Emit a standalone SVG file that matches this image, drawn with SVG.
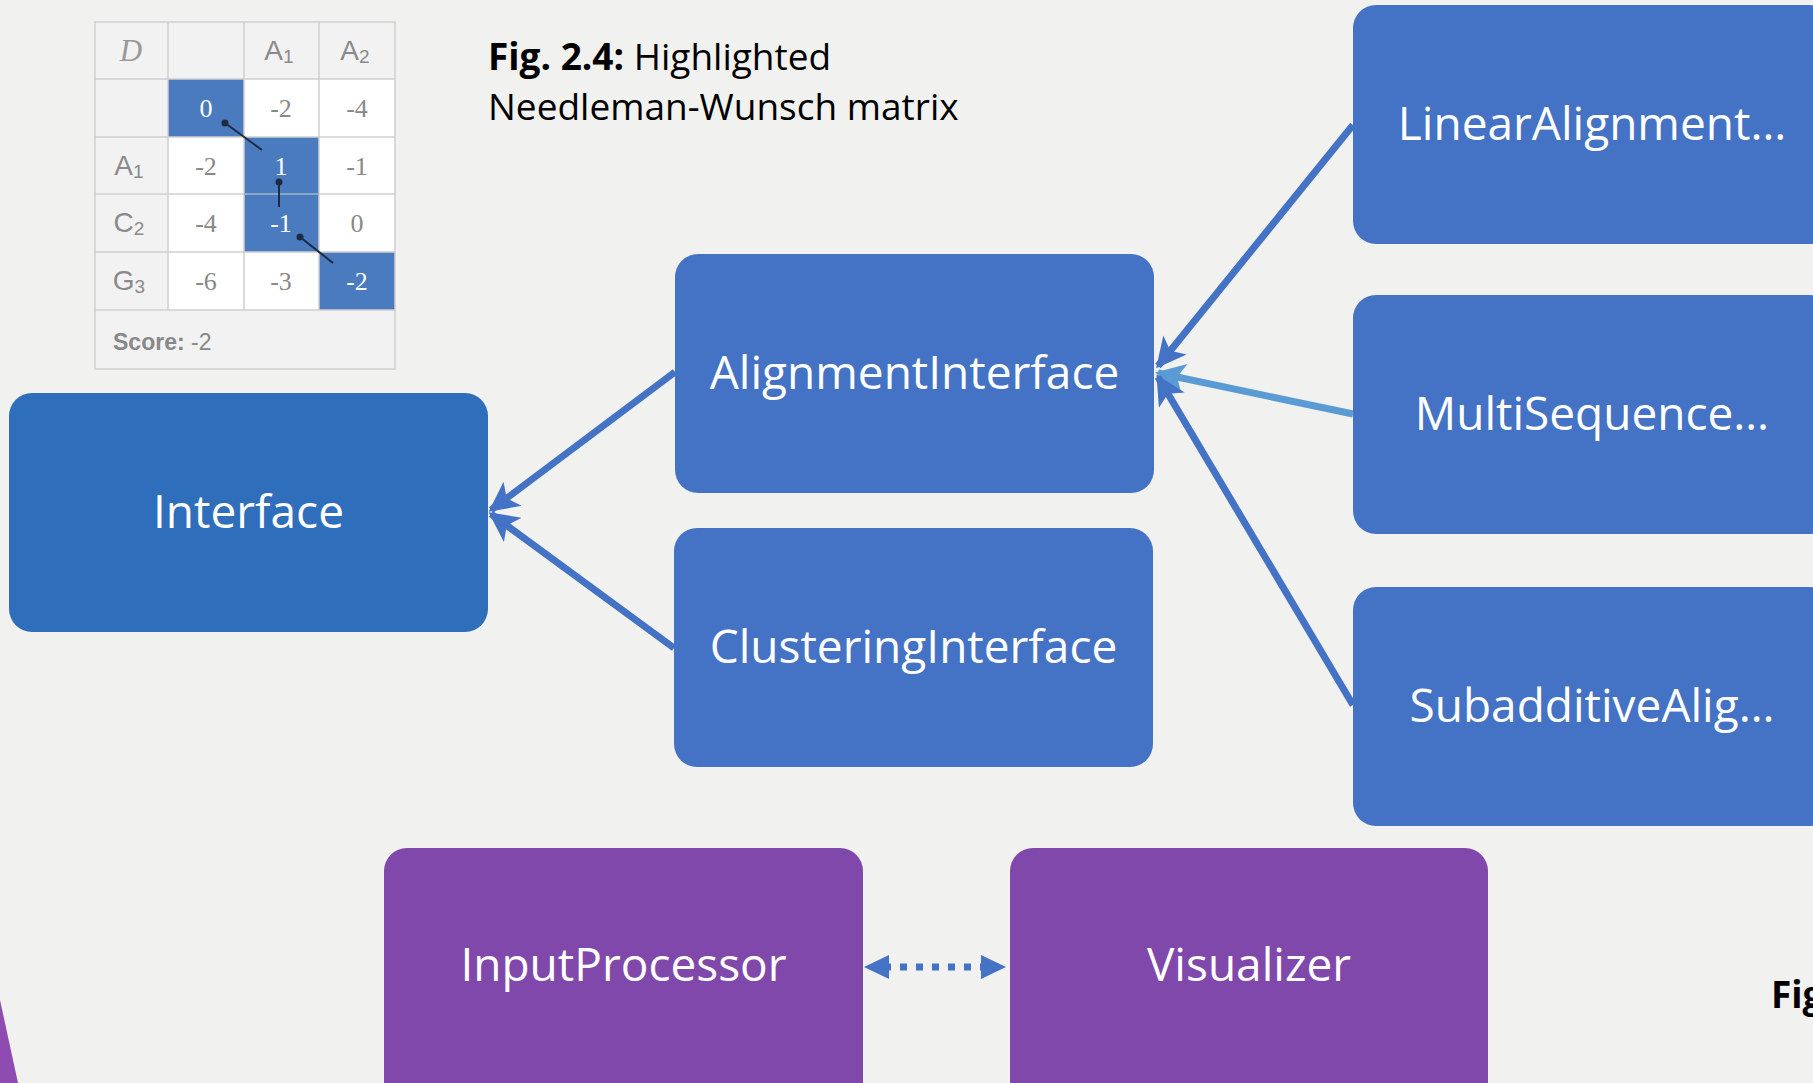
<svg xmlns="http://www.w3.org/2000/svg" width="1813" height="1083" viewBox="0 0 1813 1083">
<style>
.bg{fill:#f1f1f0}
.node text{font-family:"Open Sans","Liberation Sans",sans-serif;font-size:46px;fill:#ffffff;text-anchor:middle;dominant-baseline:central}
.blue{fill:#4472c4}
.dblue{fill:#2e6ebb}
.purple{fill:#8048ab}
.conn{stroke:#4472c4;stroke-width:7;fill:none}
.light{stroke:#5b9bd5}
.cap{font-family:"Open Sans","Liberation Sans",sans-serif;font-size:37px;fill:#000}
.mnum{font-family:"Liberation Serif",serif;font-size:26px;fill:#888;text-anchor:middle;dominant-baseline:central}
.mhdr{font-family:"Liberation Sans",sans-serif;font-size:28px;fill:#8a8a8a;text-anchor:middle;dominant-baseline:central}
.mw{fill:#ffffff}
.grid{stroke:#cfcfcf;stroke-width:1.5;fill:none}
</style>
<defs>
<marker id="ah" viewBox="0 0 10 10" refX="9" refY="5" markerWidth="32" markerHeight="30" markerUnits="userSpaceOnUse" orient="auto">
<path d="M0,0 L10,5 L0,10 L2.5,5 z" fill="#4472c4"/>
</marker>
<marker id="ahl" viewBox="0 0 10 10" refX="9" refY="5" markerWidth="32" markerHeight="30" markerUnits="userSpaceOnUse" orient="auto">
<path d="M0,0 L10,5 L0,10 L2.5,5 z" fill="#5b9bd5"/>
</marker>
</defs>
<rect class="bg" x="0" y="0" width="1813" height="1083"/>

<g id="matrix">
<rect x="95" y="22" width="300" height="347" fill="#f2f2f2"/>
<rect x="168" y="79" width="227" height="231" fill="#ffffff"/>
<rect x="168" y="79" width="76" height="58" fill="#4a7bbf"/>
<rect x="244" y="137" width="75" height="115" fill="#4a7bbf"/>
<rect x="319" y="252" width="76" height="58" fill="#4a7bbf"/>
<path class="grid" d="M95,22 H395 V369 H95 Z M168,22 V310 M244,22 V310 M319,22 V310 M95,79 H395 M95,137 H395 M95,194 H395 M95,252 H395 M95,310 H395"/>
<line x1="244" y1="194" x2="319" y2="194" stroke="#6b93c9" stroke-width="1"/>
<text x="131" y="50" font-family="Liberation Serif,serif" font-style="italic" font-size="31" fill="#999" text-anchor="middle" dominant-baseline="central">D</text>
<text class="mhdr" x="279" y="50">A<tspan font-size="19" dy="6">1</tspan></text>
<text class="mhdr" x="355" y="50">A<tspan font-size="19" dy="6">2</tspan></text>
<text class="mhdr" x="129" y="165">A<tspan font-size="19" dy="6">1</tspan></text>
<text class="mhdr" x="129" y="222">C<tspan font-size="19" dy="6">2</tspan></text>
<text class="mhdr" x="129" y="280">G<tspan font-size="19" dy="6">3</tspan></text>
<text class="mnum mw" x="206" y="108">0</text>
<text class="mnum" x="281" y="108">-2</text>
<text class="mnum" x="357" y="108">-4</text>
<text class="mnum" x="206" y="166">-2</text>
<text class="mnum mw" x="281" y="166">1</text>
<text class="mnum" x="357" y="166">-1</text>
<text class="mnum" x="206" y="223">-4</text>
<text class="mnum mw" x="281" y="223">-1</text>
<text class="mnum" x="357" y="223">0</text>
<text class="mnum" x="206" y="281">-6</text>
<text class="mnum" x="281" y="281">-3</text>
<text class="mnum mw" x="357" y="281">-2</text>
<g stroke="#1e2a40" stroke-width="2" fill="#1e2a40">
<line x1="225" y1="123" x2="262" y2="150"/><circle cx="225" cy="123" r="2.5"/>
<line x1="279" y1="182" x2="279" y2="207"/><circle cx="279" cy="182" r="2.5"/>
<line x1="300" y1="237" x2="333" y2="263"/><circle cx="300" cy="237" r="2.5"/>
</g>
<text x="113" y="342" font-family="Liberation Sans,sans-serif" font-size="23" fill="#888" dominant-baseline="central"><tspan font-weight="bold">Score:</tspan> -2</text>
</g>

<g id="caption">
<text class="cap" x="488" y="70"><tspan font-weight="bold">Fig. 2.4:</tspan> Highlighted</text>
<text class="cap" x="488" y="120">Needleman-Wunsch matrix</text>
</g>
<text class="cap" x="1771" y="1008" font-weight="bold">Fig</text>
<polygon points="0,1000 18,1083 0,1083" fill="#8e4cb0"/>

<g id="connectors">
<line class="conn" x1="675" y1="372" x2="491" y2="510" marker-end="url(#ah)"/>
<line class="conn" x1="674" y1="648" x2="491" y2="514" marker-end="url(#ah)"/>
<line class="conn" x1="1353" y1="125" x2="1158" y2="366" marker-end="url(#ah)"/>
<line class="conn light" x1="1353" y1="414" x2="1158" y2="373" marker-end="url(#ahl)"/>
<line class="conn" x1="1353" y1="705" x2="1158" y2="377" marker-end="url(#ah)"/>
<g id="bidir">
<line x1="884" y1="967" x2="987" y2="967" stroke="#4472c4" stroke-width="7" stroke-dasharray="7 9" stroke-dashoffset="0"/>
<polygon points="864,967 889,955 889,979" fill="#4472c4"/>
<polygon points="1006,967 981,955 981,979" fill="#4472c4"/>
</g>
</g>

<g id="interface" class="node"><rect class="dblue" x="9" y="393" width="479" height="239" rx="23"/><text x="248.5" y="510">Interface</text></g>
<g id="alignment" class="node"><rect class="blue" x="675" y="254" width="479" height="239" rx="23"/><text x="914.5" y="371">AlignmentInterface</text></g>
<g id="clustering" class="node"><rect class="blue" x="674" y="528" width="479" height="239" rx="23"/><text x="913.5" y="645">ClusteringInterface</text></g>
<g id="linear" class="node"><rect class="blue" x="1353" y="5" width="479" height="239" rx="23"/><text x="1592" y="122">LinearAlignment…</text></g>
<g id="multi" class="node"><rect class="blue" x="1353" y="295" width="479" height="239" rx="23"/><text x="1592" y="412">MultiSequence…</text></g>
<g id="subadditive" class="node"><rect class="blue" x="1353" y="587" width="479" height="239" rx="23"/><text x="1592" y="704">SubadditiveAlig…</text></g>
<g id="input" class="node"><rect class="purple" x="384" y="848" width="479" height="260" rx="23"/><text x="623.5" y="963">InputProcessor</text></g>
<g id="visualizer" class="node"><rect class="purple" x="1010" y="848" width="478" height="260" rx="23"/><text x="1249" y="963">Visualizer</text></g>
</svg>
